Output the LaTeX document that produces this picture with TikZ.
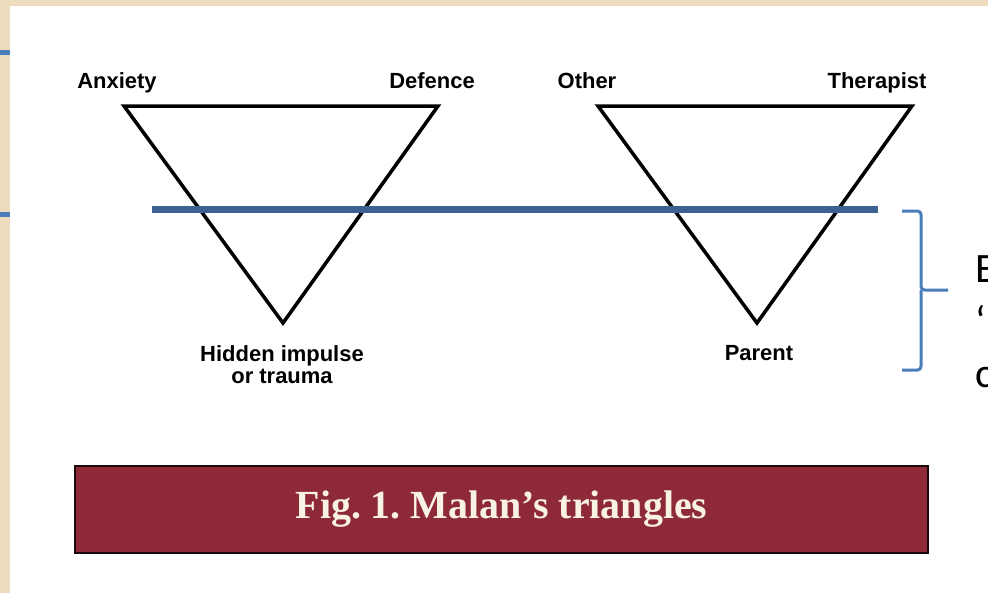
\documentclass[tikz,border=0pt]{standalone}
\usepackage{fontspec}
\setmainfont{Liberation Sans}
\newfontfamily\titlefont{Liberation Serif}
\newfontfamily\notefont{Carlito}
\usetikzlibrary{positioning}
\frenchspacing

\definecolor{parchment}{RGB}{236,219,188}
\definecolor{cutblue}{RGB}{60,98,148}
\definecolor{braceblue}{RGB}{74,126,187}
\definecolor{barred}{RGB}{142,42,56}
\definecolor{cream}{RGB}{248,241,230}

\tikzset{
  corner/.style={font=\fontsize{12.5}{12}\selectfont\bfseries, anchor=base, inner sep=0pt, align=center},
  side/.style={line width=2pt, line join=miter},
  cutline/.style={cutblue, line width=4pt},
  bracket/.style={braceblue, line width=1.7pt, rounded corners=2pt},
  note/.style={font=\notefont\fontsize{23.8}{30}\selectfont, anchor=base west, inner sep=0pt},
}

\begin{document}
\begin{tikzpicture}[x=0.02cm, y=-0.02cm]
    \useasboundingbox (0,0) rectangle (988,593);

    % Sfondo
    \fill[parchment] (0,0) rectangle (988,593);
    \fill[braceblue] (0,50) rectangle (10,55);
    \fill[braceblue] (0,212) rectangle (10,217);
    \fill[white] (10,6) rectangle (988,593);

    % Triangolo di sinistra
    \coordinate (anxV) at (124,106);
    \coordinate (defV) at (438,106);
    \coordinate (hidV) at (283,323);
    \draw[side] (anxV) -- (defV) -- (hidV) -- cycle;

    % Triangolo di destra
    \coordinate (othV) at (598,106);
    \coordinate (therV) at (912,106);
    \coordinate (parV) at (757,323);
    \draw[side] (othV) -- (therV) -- (parV) -- cycle;

    % Etichette
    \node[corner] (anx) at (117,88) {Anxiety};
    \node[corner] (def) at (432,88) {Defence};
    \node[corner] (oth) at (587,88) {Other};
    \node[corner] (ther) at (877,88) {Therapist};
    \node[corner] (hid) at (282,383) {Hidden impulse\\or trauma};
    \node[corner] (par) at (759,360) {Parent};

    % Linea blu
    \coordinate (cutL) at (152,209.5);
    \coordinate (cutR) at (878,209.5);
    \draw[cutline] (cutL) -- (cutR);

    % Parentesi
    \coordinate (brT) at (902,211);
    \coordinate (brM) at (921,290);
    \coordinate (brTip) at (948,290);
    \coordinate (brB) at (902,370);
    \draw[bracket] (brT) -| (brM) -- (brTip);
    \draw[bracket] (brM) |- (brB);

    % Testo tagliato
    \node[note] (n1) at (975,282) {E};
    \node[note] (n2) at (975,335) {‘};
    \node[note] (n3) at (975,387) {c};

    % Didascalia
    \node[draw=black!80!barred, line width=0.6pt, fill=barred, minimum width=853*0.02cm, minimum height=87*0.02cm, inner sep=0pt] (bar) at (501.5,509.5) {};
    \node[text=cream, font=\titlefont\bfseries\fontsize{22.7}{26}\selectfont] (title) at (bar.center) {Fig. 1. Malan’s triangles};
\end{tikzpicture}
\end{document}
